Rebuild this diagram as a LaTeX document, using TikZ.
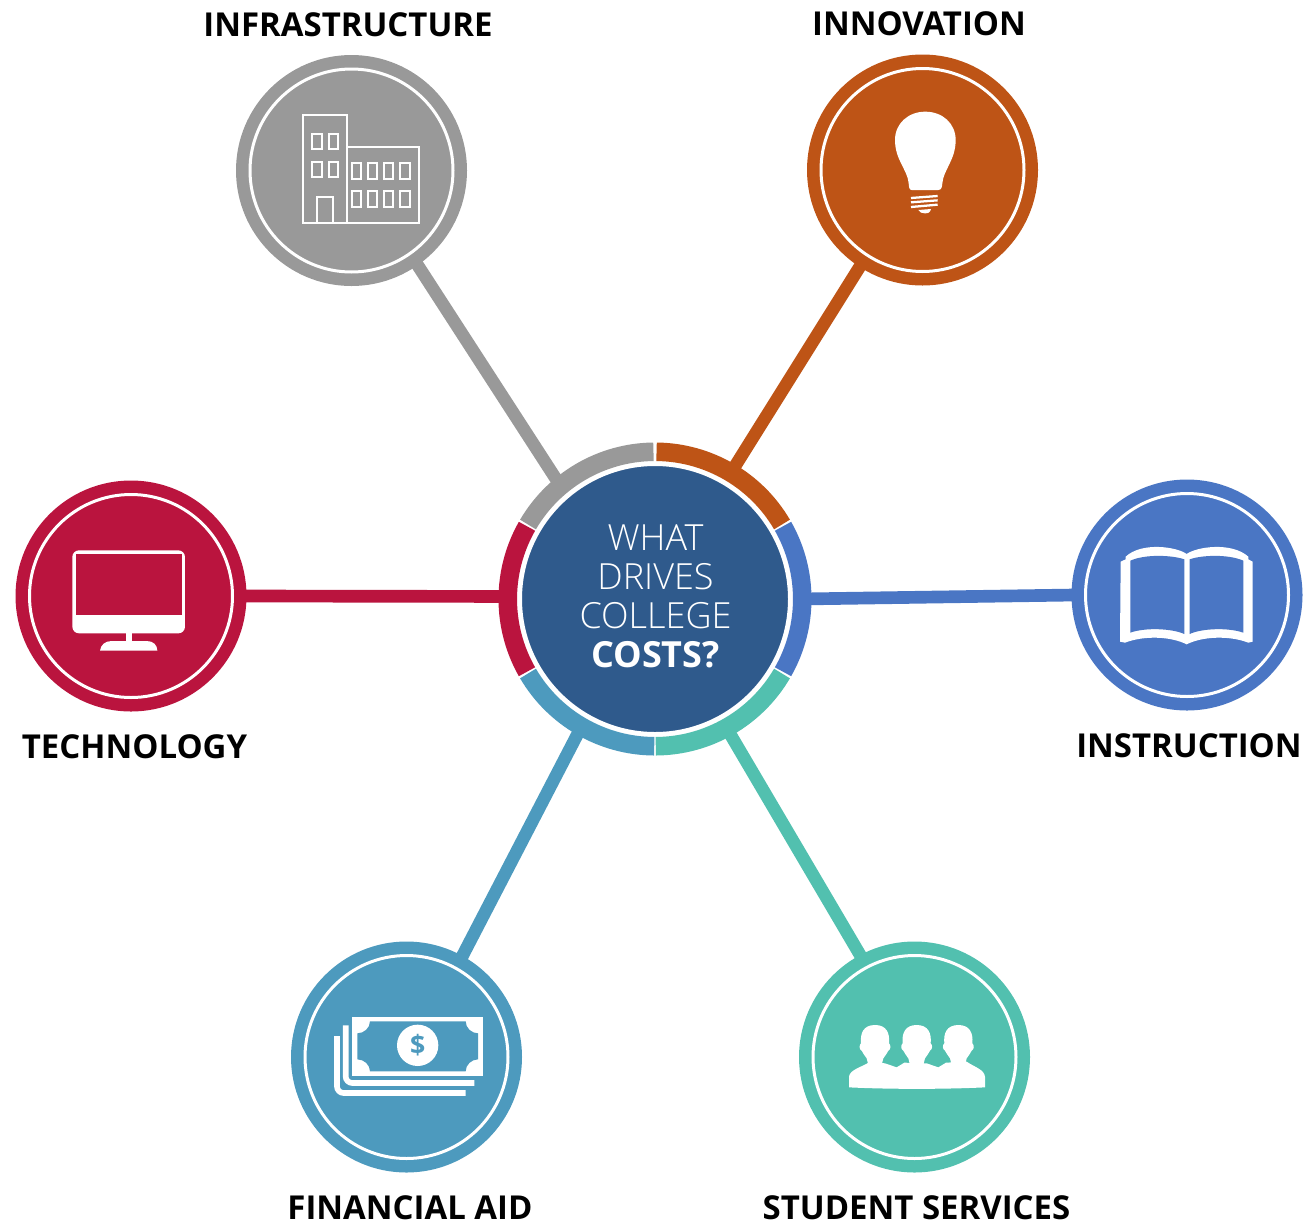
\documentclass[tikz,border=0pt]{standalone}
\usepackage{fontspec}
\setmainfont{Open Sans}
\newfontfamily\lightfont{Open Sans Light}
\definecolor{cgray}{HTML}{999999}
\definecolor{corange}{HTML}{BE5416}
\definecolor{cred}{HTML}{BA143E}
\definecolor{cblue}{HTML}{4A76C4}
\definecolor{cfin}{HTML}{4D9ABE}
\definecolor{cteal}{HTML}{52C0AF}
\definecolor{cnavy}{HTML}{2F5A8C}
\tikzset{
  outernode/.style={circle,fill=#1,draw=none,minimum size=173.25pt,inner sep=0pt,outer sep=-2pt},
  ringline/.style={draw=white,line width=2.25pt},
  connector/.style={line width=9.5pt,draw=#1},
  catlabel/.style={anchor=base,font=\fontsize{24.7}{30}\selectfont\bfseries,text=black,inner sep=0pt},
  hubnode/.style={circle,fill=cnavy,draw=white,line width=4.5pt,minimum size=204pt,inner sep=0pt,outer sep=6.75pt},
  icon/.style={fill=white,draw=none},
  iconline/.style={draw=white,line width=1.5pt,fill=none}
}
\newcommand{\ringseg}[3]{\draw[line width=13.9pt,draw=#1] (#2:147.25) arc[start angle=#2,end angle=#3,radius=147.25];}
\newcommand{\winbox}[4]{\draw[iconline] (#1,#2) rectangle (#3,#4);}
\begin{document}
\begin{tikzpicture}[x=.75pt,y=-.75pt]
\useasboundingbox (0,0) rectangle (1307,1225);
\node[hubnode] (hub) at (655,599) {};
\node[outernode=cgray] (infra) at (351.5,170.5) {};
\node[outernode=corange] (innov) at (922.5,170) {};
\node[outernode=cred] (tech) at (131,596) {};
\node[outernode=cblue] (instr) at (1187,595) {};
\node[outernode=cfin] (aid) at (406.5,1057) {};
\node[outernode=cteal] (serv) at (914.5,1057) {};
\draw[connector=cgray] (infra.-55.7) -- (hub.130.1);
\draw[connector=corange] (innov.-123.3) -- (hub.59.1);
\draw[connector=cred] (tech.-0.7) -- (hub.179.4);
\draw[connector=cblue] (instr.180.5) -- (hub.0.4);
\draw[connector=cfin] (aid.61.4) -- (hub.-120.8);
\draw[connector=cteal] (serv.118.8) -- (hub.-61);
\begin{scope}[shift={(hub.center)},y=.75pt]
\ringseg{cgray}{90.6}{149.6}
\ringseg{corange}{89.4}{30.4}
\ringseg{cblue}{29.6}{-29.6}
\ringseg{cteal}{-30.4}{-89.7}
\ringseg{cfin}{-90.3}{-149.6}
\ringseg{cred}{150.4}{209.6}
\end{scope}
\foreach \n in {infra,innov,tech,instr,aid,serv}
  \draw[ringline] (\n.center) circle[radius=101.5];
\node[align=center,text=white,font=\fontsize{27}{29.25}\lightfont] (hubtext) at (655.5,596) {WHAT\\DRIVES\\COLLEGE\\{\fontsize{27}{29.25}\normalfont\bfseries COSTS?}};
\node[catlabel] (l1) at (348,36) {INFRASTRUCTURE};
\node[catlabel] (l2) at (919,35) {INNOVATION};
\node[catlabel] (l3) at (134.5,758) {TECHNOLOGY};
\node[catlabel] (l4) at (1189,757) {INSTRUCTION};
\node[catlabel] (l5) at (410,1219) {FINANCIAL AID};
\node[catlabel] (l6) at (916.5,1219) {STUDENT SERVICES};
% building
\begin{scope}[shift={(230,50)},scale=.33333]
\winbox{218}{195}{352}{520}
\winbox{352}{292}{568}{520}
\winbox{262}{440}{310}{520}
\foreach \a/\b in {247/275,297/325}{\winbox{\a}{252}{\b}{298}\winbox{\a}{335}{\b}{380}}
\foreach \a/\b in {366/392,413/440,461/488,509/540}{\winbox{\a}{338}{\b}{386}\winbox{\a}{424}{\b}{472}}
\end{scope}
% bulb
\begin{scope}[shift={(860,90)},scale=.33333]
\fill[icon] (155,300) .. controls (147,300) and (147,290) .. (146,280) .. controls (143,240) and (105,210) .. (105,150) .. controls (105,100) and (145,65) .. (196,65) .. controls (247,65) and (287,100) .. (287,150) .. controls (287,210) and (250,240) .. (247,280) .. controls (246,290) and (245,300) .. (235,300) -- cycle;
\draw[white,line width=1.7pt] (153,324) -- (233,318) (153,337) -- (233,331) (153,351) -- (233,344);
\fill[icon] (175,360) -- (213,357) .. controls (210,368) and (205,370) .. (195,370) .. controls (185,370) and (180,368) .. (175,360) -- cycle;
\end{scope}
% money
\begin{scope}[shift={(320,1000)},scale=.33333]
\draw[white,line width=4.25pt,rounded corners=5pt] (51,108) -- (51,279) -- (437,279);
\draw[white,line width=4.25pt,rounded corners=5pt] (77,76) -- (77,249) -- (463,249);
\fill[icon] (97,50) rectangle (488,228);
\fill[fill=cfin] (150,64) -- (437,64) .. controls (437,84) and (455,100) .. (474,100) -- (474,178) .. controls (455,178) and (437,194) .. (437,214) -- (150,214) .. controls (150,194) and (132,178) .. (112,178) -- (112,100) .. controls (132,100) and (150,84) .. (150,64) -- cycle;
\fill[icon] (293,136) circle[radius=62];
\node[text=cfin,font=\fontsize{20}{24}\selectfont\bfseries,inner sep=0pt] (dollar) at (293,136) {\$};
\end{scope}
% people
\begin{scope}[shift={(835,1010)},scale=.33333]
\fill[icon] (42,232) -- (42,200) .. controls (45,178) and (80,172) .. (105,155) -- (150,160) -- (185,172) -- (208,158) -- (275,160) -- (310,172) -- (333,158) -- (395,155) .. controls (420,172) and (447,178) .. (450,200) -- (450,232) .. controls (330,238) and (160,238) .. (42,232) -- cycle;
\foreach \c in {120,245,370}{
\begin{scope}[shift={(\c,0)}]
\fill[icon] (-25,145) .. controls (-30,135) and (-38,130) .. (-40,122) .. controls (-48,118) and (-48,105) .. (-42,100) .. controls (-45,70) and (-35,45) .. (0,45) .. controls (35,45) and (45,70) .. (42,100) .. controls (48,105) and (48,118) .. (40,122) .. controls (38,130) and (30,135) .. (25,145) -- (20,165) -- (-20,165) -- cycle;
\end{scope}}
\end{scope}
% book
\begin{scope}[shift={(1105,530)},scale=.33333]
\fill[icon] (245,72) .. controls (215,50) and (110,35) .. (62,80) -- (62,88) -- (47,95) -- (45,335) -- (60,338) .. controls (120,315) and (200,320) .. (245,343) .. controls (290,320) and (370,315) .. (430,338) -- (443,335) -- (443,95) -- (430,88) -- (430,80) .. controls (380,35) and (275,50) .. (245,72) -- cycle;
\fill[cblue] (238,88) .. controls (200,75) and (120,72) .. (76,92) -- (76,308) .. controls (120,292) and (200,295) .. (238,312) -- cycle;
\fill[cblue] (254,88) .. controls (290,75) and (370,72) .. (415,92) -- (415,308) .. controls (370,292) and (290,295) .. (254,312) -- cycle;
\end{scope}
% monitor
\begin{scope}[shift={(55,535)},scale=.33333]
\fill[icon,rounded corners=5pt] (52,46) rectangle (390,295);
\fill[cred] (62,56) rectangle (380,240);
\fill[icon] (212,290) rectangle (232,325);
\fill[icon] (135,347) .. controls (137,330) and (150,318) .. (170,318) -- (275,318) .. controls (295,318) and (307,330) .. (307,347) -- cycle;
\end{scope}
\end{tikzpicture}
\end{document}
